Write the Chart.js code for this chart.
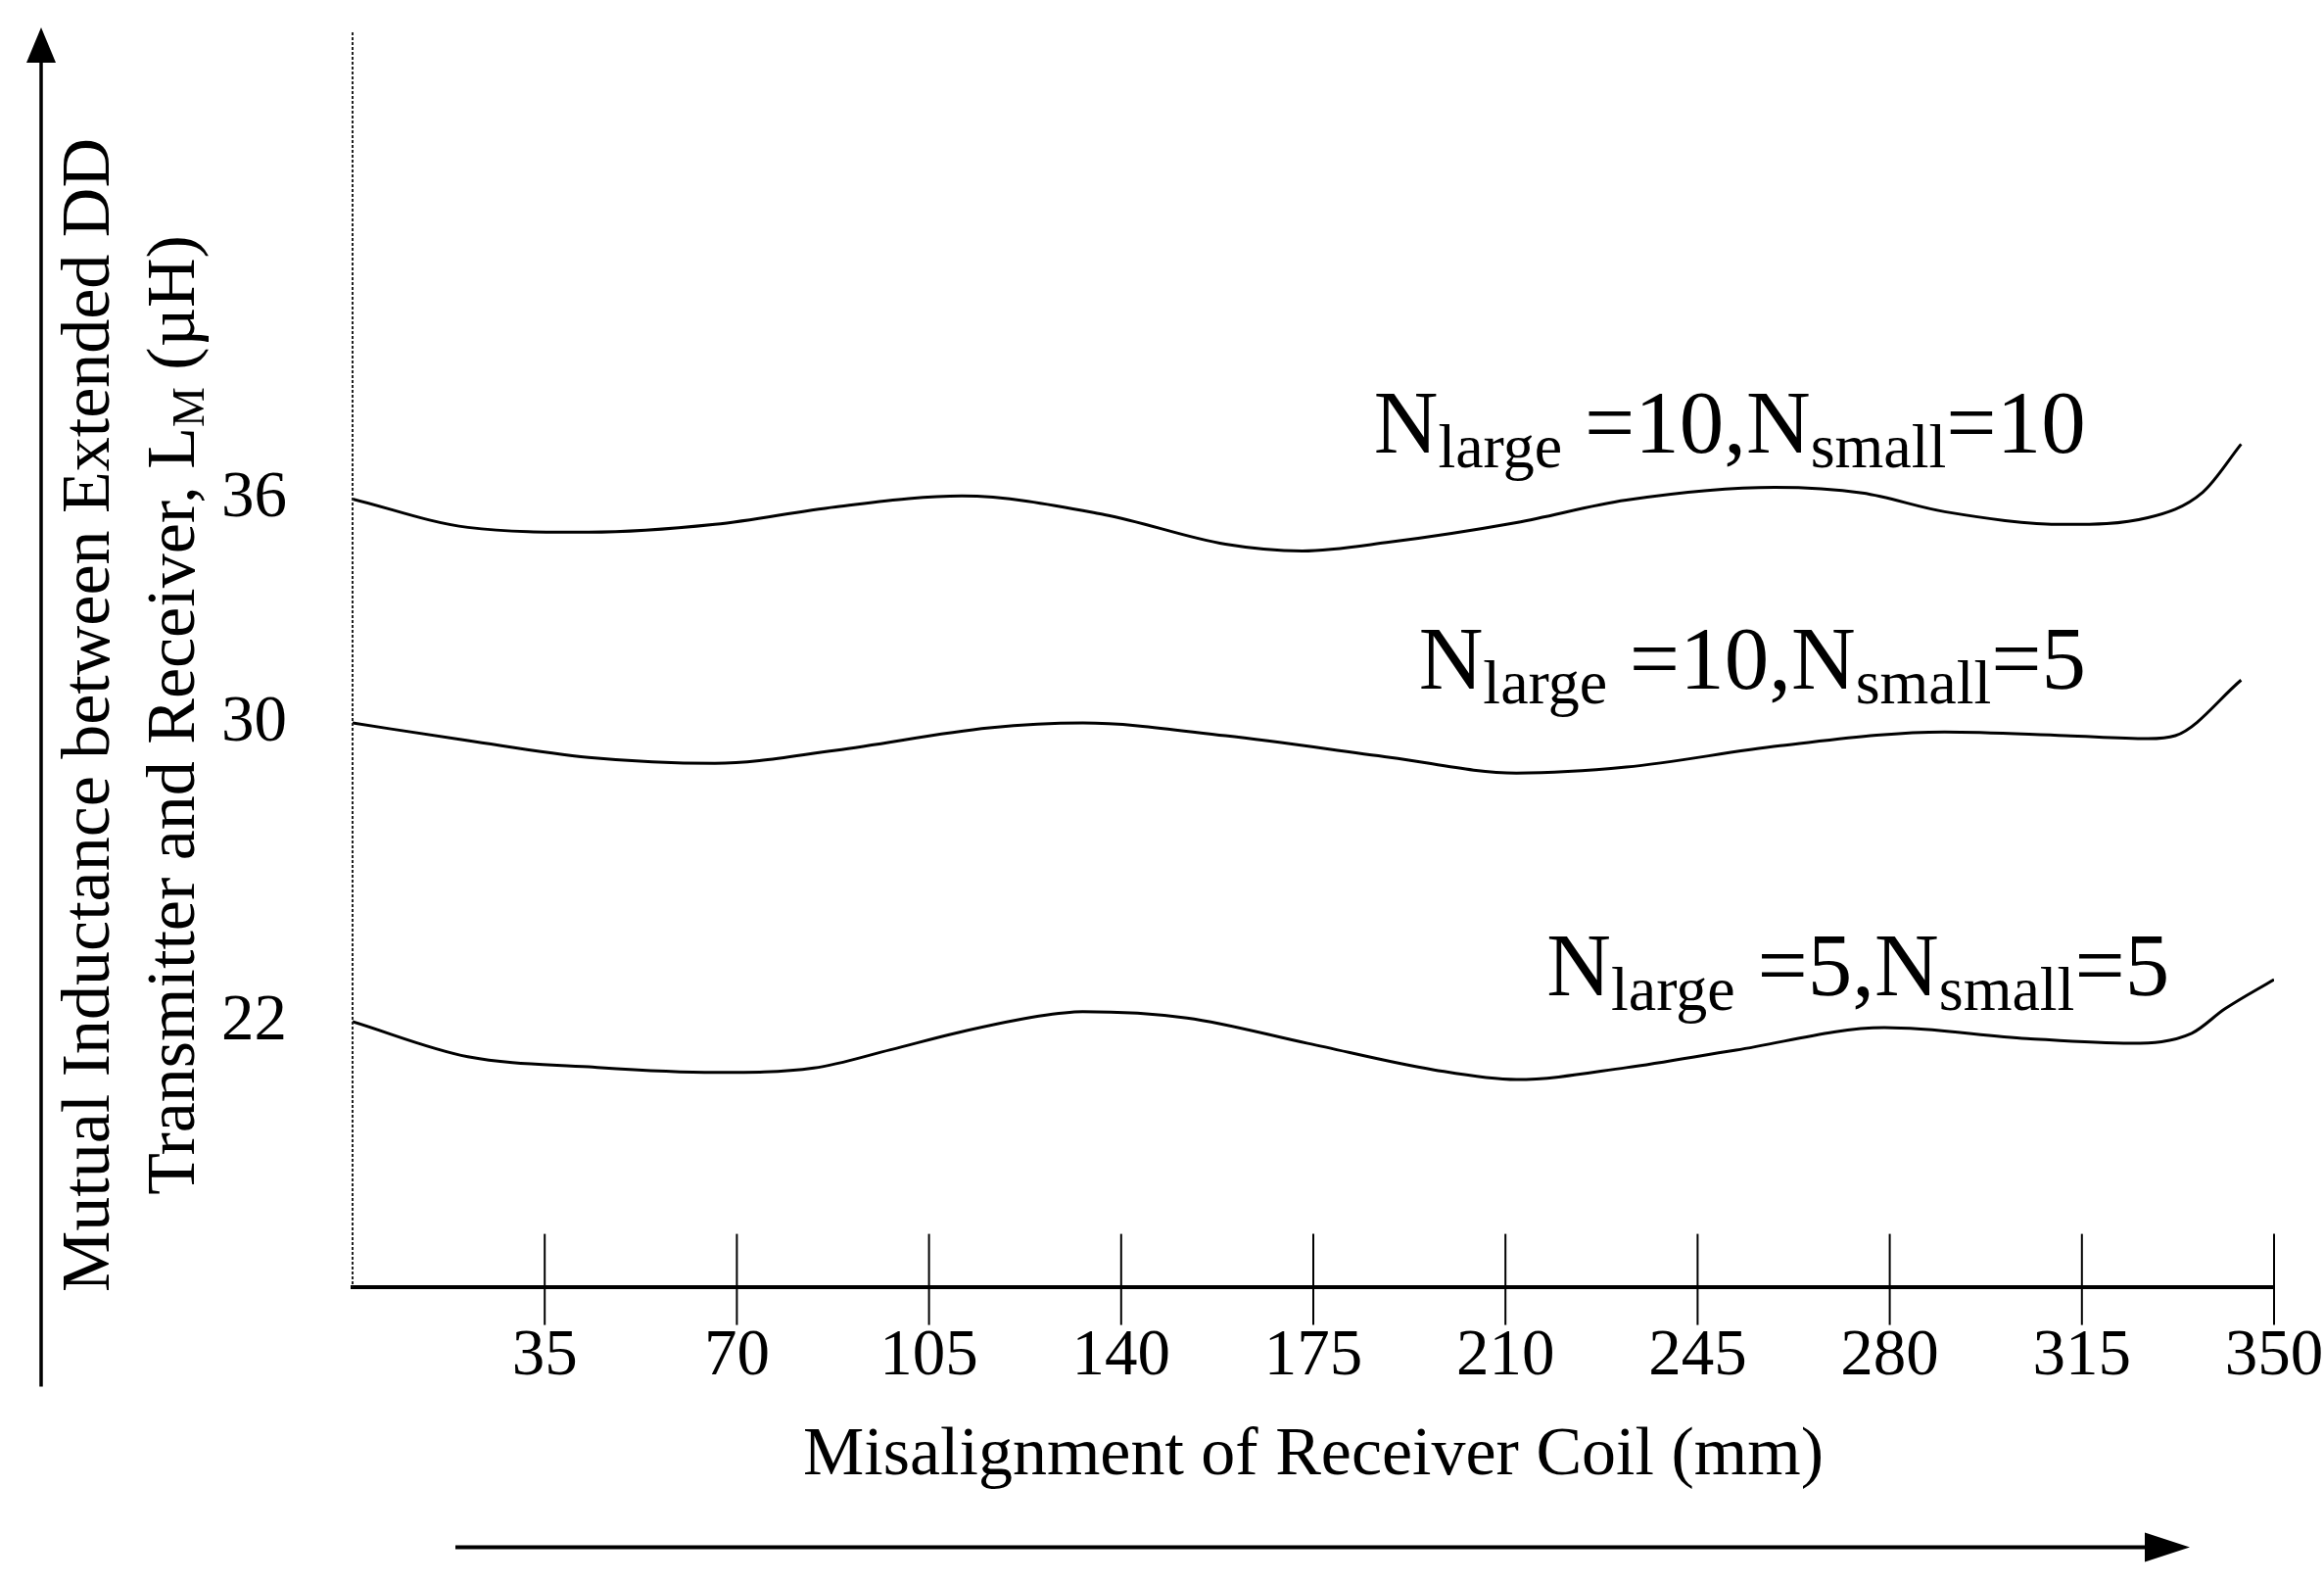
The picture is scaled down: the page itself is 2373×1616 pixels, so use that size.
<!DOCTYPE html>
<html>
<head>
<meta charset="utf-8">
<script src="https://cdn.jsdelivr.net/npm/chart.js@4.4.0/dist/chart.umd.min.js"></script>
<style>
  html, body { margin: 0; padding: 0; background: #fff; }
  #wrap { width: 2373px; height: 1616px; }
</style>
</head>
<body>
<div id="wrap"><canvas id="inductanceChart" width="2373" height="1616"></canvas></div>
<script>
// Misalignment (mm) vs mutual inductance L_M (uH)
const xN10S10 = [0, 21, 43, 66, 88, 111, 137, 159, 173, 189, 212, 232, 259, 275, 290, 312, 327, 337, 344];
const yN10S10 = [36.0, 35.24, 35.11, 35.32, 35.79, 36.08, 35.58, 34.79, 34.61, 34.85, 35.37, 35.97, 36.31, 36.16, 35.66, 35.32, 35.50, 36.18, 37.47];

const xN10S5 = [0, 21, 43, 66, 88, 116, 133, 159, 189, 212, 232, 260, 290, 312, 327, 332, 344];
const yN10S5 = [30.0, 29.53, 29.08, 28.92, 29.27, 29.87, 30.0, 29.66, 29.08, 28.66, 28.82, 29.39, 29.76, 29.66, 29.58, 29.66, 31.15];

const xN5S5 = [0, 21, 43, 66, 84, 98, 110, 125, 133, 152, 174, 197, 212, 232, 252, 279, 305, 324, 335, 341, 350];
const yN5S5 = [22.0, 21.06, 20.79, 20.64, 20.76, 21.25, 21.70, 22.15, 22.27, 22.10, 21.42, 20.71, 20.45, 20.77, 21.24, 21.84, 21.55, 21.42, 21.69, 22.34, 23.13];

const xTicks = [35, 70, 105, 140, 175, 210, 245, 280, 315, 350];
const yTicks = [22, 30, 36];

// curve labels: main / subscript / main / subscript / main
const curveLabels = [
    ['N', 'large', ' =10,N', 'small', '=10'],
    ['N', 'large', ' =10,N', 'small', '=5'],
    ['N', 'large', ' =5,N', 'small', '=5']
];
const labelAnchors = [[186, 37.24], [194.2, 30.91], [217.5, 22.72]]; // data coords of text start

const yTitle1 = 'Mutual Inductance between Extended DD';
const yTitle2 = ['Transmitter and Receiver, L', 'M', ' (µH)'];

const SERIF = '"Liberation Serif", "Times New Roman", serif';

function pts(xs, ys) {
    return xs.map((x, i) => ({ x: x, y: ys[i] }));
}

// writes text pieces, odd pieces as subscripts
function drawRich(ctx, parts, x, y, big, small, drop) {
    parts.forEach((p, i) => {
        const sub = i % 2 === 1;
        ctx.font = (sub ? small : big) + 'px ' + SERIF;
        ctx.fillText(p, x, sub ? y + drop : y);
        x += ctx.measureText(p).width;
    });
}

function richWidth(ctx, parts, big, small) {
    let w = 0;
    parts.forEach((p, i) => {
        ctx.font = (i % 2 === 1 ? small : big) + 'px ' + SERIF;
        w += ctx.measureText(p).width;
    });
    return w;
}

const decorPlugin = {
    id: 'decor',
    afterDraw(chart) {
        const ctx = chart.ctx;
        const area = chart.chartArea;
        const xs = chart.scales.x, ys = chart.scales.y;
        ctx.save();

        // thin dashed y axis
        ctx.strokeStyle = '#222';
        ctx.lineWidth = 2;
        ctx.setLineDash([3, 2]);
        ctx.beginPath();
        ctx.moveTo(area.left, area.top);
        ctx.lineTo(area.left, area.bottom);
        ctx.stroke();
        ctx.setLineDash([]);

        // x tick marks crossing the axis
        ctx.strokeStyle = '#000';
        ctx.lineWidth = 2;
        xs.ticks.forEach(t => {
            const px = xs.getPixelForValue(t.value);
            ctx.beginPath();
            ctx.moveTo(px, area.bottom - 54);
            ctx.lineTo(px, area.bottom + 39);
            ctx.stroke();
        });

        // arrows
        ctx.fillStyle = '#000';
        ctx.lineWidth = 3.5;
        const ax = area.left - 318;
        ctx.beginPath();
        ctx.moveTo(ax, area.bottom + 102);
        ctx.lineTo(ax, area.top + 20);
        ctx.stroke();
        ctx.beginPath();
        ctx.moveTo(ax, area.top - 5);
        ctx.lineTo(ax - 15, area.top + 31);
        ctx.lineTo(ax + 15, area.top + 31);
        ctx.closePath();
        ctx.fill();

        const ay = area.bottom + 266;
        const tip = area.right - 86;
        ctx.lineWidth = 4;
        ctx.beginPath();
        ctx.moveTo(area.left + 105, ay);
        ctx.lineTo(tip - 30, ay);
        ctx.stroke();
        ctx.beginPath();
        ctx.moveTo(tip, ay);
        ctx.lineTo(tip - 46, ay - 15);
        ctx.lineTo(tip - 46, ay + 15);
        ctx.closePath();
        ctx.fill();

        // curve labels
        ctx.textBaseline = 'alphabetic';
        ctx.textAlign = 'left';
        curveLabels.forEach((parts, i) => {
            const px = xs.getPixelForValue(labelAnchors[i][0]);
            const py = ys.getPixelForValue(labelAnchors[i][1]);
            drawRich(ctx, parts, px, py, 91, 64, 15);
        });

        // rotated y axis title (two lines)
        const cy = 730;
        ctx.save();
        ctx.translate(111, cy);
        ctx.rotate(-Math.PI / 2);
        ctx.font = '70px ' + SERIF;
        const w1 = ctx.measureText(yTitle1).width;
        ctx.fillText(yTitle1, -w1 / 2, 0);
        ctx.restore();

        ctx.save();
        ctx.translate(198, cy);
        ctx.rotate(-Math.PI / 2);
        const w2 = richWidth(ctx, yTitle2, 70, 46);
        drawRich(ctx, yTitle2, -w2 / 2, 0, 70, 46, 10);
        ctx.restore();

        ctx.restore();
    }
};

const ctx1 = document.getElementById('inductanceChart').getContext('2d');
const inductanceChart = new Chart(ctx1, {
    type: 'line',
    data: {
        datasets: [
            { data: pts(xN10S10, yN10S10) },
            { data: pts(xN10S5, yN10S5) },
            { data: pts(xN5S5, yN5S5) }
        ].map(d => Object.assign(d, {
            borderColor: '#000',
            borderWidth: 3,
            pointRadius: 0,
            fill: false,
            cubicInterpolationMode: 'monotone'
        }))
    },
    options: {
        responsive: false,
        animation: false,
        devicePixelRatio: 1,
        layout: { padding: { left: 167, right: 51, top: 33, bottom: 87 } },
        plugins: {
            legend: { display: false },
            tooltip: { enabled: false }
        },
        scales: {
            x: {
                type: 'linear',
                min: 0,
                max: 350,
                afterBuildTicks: axis => { axis.ticks = xTicks.map(v => ({ value: v })); },
                afterFit: axis => { axis.paddingLeft = 0; axis.paddingRight = 0; },
                grid: { display: false },
                border: { display: true, color: '#000', width: 4 },
                ticks: { color: '#000', font: { family: SERIF, size: 67 }, padding: 24, maxRotation: 0, autoSkip: false },
                title: {
                    display: true,
                    text: 'Misalignment of Receiver Coil (mm)',
                    color: '#000',
                    font: { family: SERIF, size: 70 },
                    padding: { top: -5, bottom: 0 }
                }
            },
            y: {
                type: 'linear',
                min: 14.9,
                max: 48.5,
                afterBuildTicks: axis => { axis.ticks = yTicks.map(v => ({ value: v })); },
                afterFit: axis => { axis.paddingTop = 0; axis.paddingBottom = 0; },
                grid: { display: false },
                border: { display: false },
                ticks: { color: '#000', font: { family: SERIF, size: 67 }, padding: 59, autoSkip: false }
            }
        }
    },
    plugins: [decorPlugin]
});
</script>
</body>
</html>
